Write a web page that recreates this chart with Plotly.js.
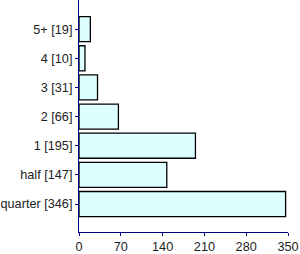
<!DOCTYPE html>
<html><head><meta charset="utf-8">
<script src="https://cdn.plot.ly/plotly-3.0.1.min.js"></script>
<style>html,body{margin:0;padding:0;background:#fff}</style>
</head><body>
<div id="chart" style="width:300px;height:254px"></div>
<script>
const categories = ["quarter [346]", "half [147]", "1 [195]", "2 [66]", "3 [31]", "4 [10]", "5+ [19]"];
const values = [346, 147, 195, 66, 31, 10, 19];
const tickVals = [0, 70, 140, 210, 280, 350];

Plotly.newPlot('chart', [{
  type: 'bar',
  orientation: 'h',
  y: categories,
  x: values,
  width: 0.86,
  marker: {color: '#ddffff', line: {color: '#000000', width: 1.3}},
  hoverinfo: 'none'
}], {
  width: 300, height: 254,
  margin: {l: 79, r: 12, t: 0, b: 22, pad: 0},
  paper_bgcolor: '#ffffff', plot_bgcolor: '#ffffff',
  font: {family: 'Liberation Sans, Arial, sans-serif', size: 12.7, color: '#222222'},
  showlegend: false,
  xaxis: {
    range: [0, 350], tickvals: tickVals, ticktext: tickVals.map(String),
    showgrid: false, zeroline: false, showline: true, linecolor: '#000080', linewidth: 1,
    ticks: 'outside', ticklen: 3, tickcolor: '#000080', tickwidth: 1,
    tickfont: {size: 12.7, color: '#222222'}
  },
  yaxis: {
    type: 'category', categoryorder: 'array', categoryarray: categories,
    range: [-0.96, 7.0],
    showgrid: false, zeroline: false, showline: true, linecolor: '#000080', linewidth: 1,
    ticks: 'outside', ticklen: 3, tickcolor: '#000080', tickwidth: 1,
    tickfont: {size: 12.7, color: '#222222'}
  }
}, {displayModeBar: false, staticPlot: true});
</script>
</body></html>
